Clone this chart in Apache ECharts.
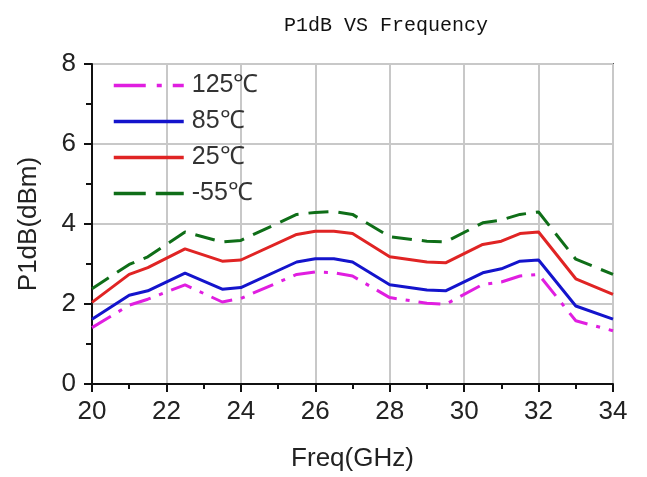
<!DOCTYPE html>
<html>
<head>
<meta charset="utf-8">
<script src="https://cdn.jsdelivr.net/npm/echarts@6/dist/echarts.min.js"></script>
<style>
html,body{margin:0;padding:0;background:#fff;}
#chart{width:647px;height:477px;}
</style>
</head>
<body>
<div id="chart"></div>
<script>
var freq = [20, 21, 21.5, 22.5, 23.5, 24, 25.5, 26, 26.5, 27, 28, 29, 29.5, 30.5, 31, 31.5, 32, 33, 34];
var p125 = [1.41, 1.97, 2.12, 2.48, 2.05, 2.14, 2.74, 2.80, 2.78, 2.70, 2.16, 2.02, 1.99, 2.49, 2.55, 2.70, 2.74, 1.58, 1.33];
var p85  = [1.62, 2.22, 2.33, 2.77, 2.37, 2.41, 3.05, 3.13, 3.13, 3.05, 2.48, 2.35, 2.33, 2.78, 2.88, 3.07, 3.10, 1.95, 1.62];
var p25  = [2.04, 2.74, 2.91, 3.38, 3.07, 3.10, 3.74, 3.82, 3.82, 3.76, 3.18, 3.05, 3.03, 3.49, 3.57, 3.76, 3.80, 2.63, 2.24];
var pm55 = [2.38, 2.99, 3.18, 3.80, 3.55, 3.59, 4.24, 4.29, 4.31, 4.24, 3.68, 3.57, 3.55, 4.03, 4.10, 4.24, 4.30, 3.12, 2.74];
var seriesNames = ['125℃', '85℃', '25℃', '-55℃'];
var seriesColors = ['#e01ee0', '#1414cc', '#e02424', '#0f6e18'];
var seriesDash = [[22, 9, 4, 9], 'solid', 'solid', [20, 10]];
var legendDash = [[32, 11, 5, 11], 'solid', 'solid', [32, 10]];
var seriesValues = [p125, p85, p25, pm55];

function pairs(vals) {
  return freq.map(function (f, i) { return [f, vals[i]]; });
}

var chart = echarts.init(document.getElementById('chart'), null, {renderer: 'canvas'});
var series = seriesNames.map(function (n, k) {
  return {
    name: n,
    type: 'line',
    data: pairs(seriesValues[k]),
    showSymbol: false,
    symbol: 'none',
    legendIcon: 'none',
    smooth: false,
    z: 10 - k,
    lineStyle: {color: seriesColors[k], width: 3, type: seriesDash[k]},
    itemStyle: {color: seriesColors[k]}
  };
});

chart.setOption({
  animation: false,
  backgroundColor: '#ffffff',
  title: {
    text: 'P1dB VS Frequency',
    left: 279,
    top: 11,
    textStyle: {fontFamily: 'Liberation Mono', fontSize: 20, fontWeight: 'normal', color: '#111'}
  },
  grid: {
    left: 92, right: 34, top: 64, bottom: 92,
    show: true, borderColor: '#555', borderWidth: 2, backgroundColor: 'transparent'
  },
  legend: {
    orient: 'vertical',
    left: 107,
    top: 68,
    itemWidth: 70,
    itemHeight: 14,
    itemGap: 11,
    data: seriesNames.map(function (n, k) {
      return {name: n, lineStyle: {type: legendDash[k], width: 3.5}};
    }),
    itemStyle: {opacity: 0, borderWidth: 0},
    lineStyle: {width: 3.5},
    textStyle: {fontFamily: 'Liberation Sans, Arial', fontSize: 25, color: '#333', lineHeight: 24, padding: [0, 0, 0, 3]}
  },
  xAxis: {
    type: 'value',
    min: 20, max: 34, interval: 2,
    name: 'Freq(GHz)',
    nameLocation: 'middle',
    nameGap: 62,
    nameTextStyle: {fontFamily: 'Liberation Sans, Arial', fontSize: 26, color: '#222'},
    axisLine: {show: true, onZero: false, lineStyle: {color: '#111', width: 2}},
    axisTick: {show: true, inside: false, length: 8, lineStyle: {color: '#111', width: 2}},
    minorTick: {show: true, splitNumber: 2, length: 5, lineStyle: {color: '#111', width: 2}},
    axisLabel: {fontFamily: 'Liberation Sans, Arial', fontSize: 26, color: '#222', margin: 15},
    splitLine: {show: true, lineStyle: {color: '#c8c8c8', width: 2}}
  },
  yAxis: {
    type: 'value',
    min: 0, max: 8, interval: 2,
    name: 'P1dB(dBm)',
    nameLocation: 'middle',
    nameGap: 50,
    nameTextStyle: {fontFamily: 'Liberation Sans, Arial', fontSize: 26, color: '#222'},
    axisLine: {show: true, lineStyle: {color: '#111', width: 2}},
    axisTick: {show: true, inside: false, length: 8, lineStyle: {color: '#111', width: 2}},
    minorTick: {show: true, splitNumber: 2, length: 6, lineStyle: {color: '#111', width: 2}},
    axisLabel: {fontFamily: 'Liberation Sans, Arial', fontSize: 26, color: '#222', margin: 16},
    splitLine: {show: true, lineStyle: {color: '#c8c8c8', width: 2}}
  },
  series: series
});
</script>
</body>
</html>
